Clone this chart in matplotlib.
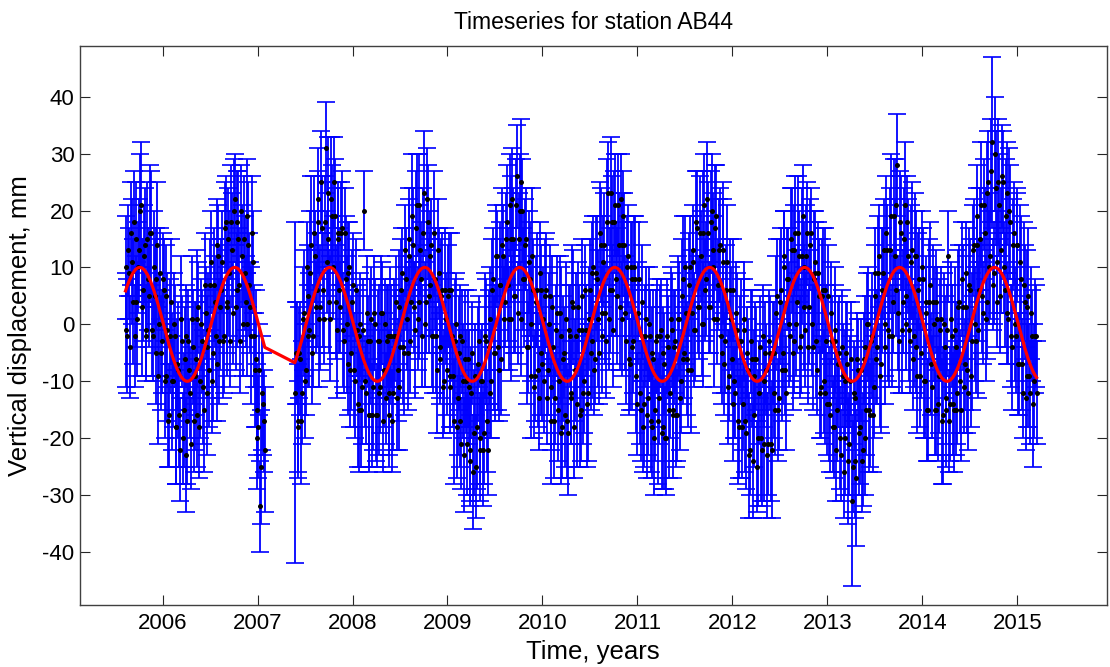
import numpy as np
import matplotlib
matplotlib.use("Agg")
import matplotlib.pyplot as plt

plt.rcParams["font.family"] = ["Liberation Sans", "DejaVu Sans"]
plt.rcParams["axes.unicode_minus"] = False

STATION = "AB44"
FIRST_EPOCH = 2005.61        # decimal year of the first solution
WEEK = 7 / 365.25            # two solutions per week: on the grid and half a week later

# seasonal model shown in red
SEASONAL_AMPLITUDE = 10.0    # mm
SEASONAL_PEAK = 0.76         # fraction of the year at maximum uplift

# ============================================================
# Vertical displacement (mm), one list per calendar year.
# VERT_* are the on-grid solutions, MID_* the half-week ones.
# None = no solution (early 2007 outage).
# ============================================================
VERT_2005 = [10, -2, 9, 16, 4, -2, 15, 10, 20, 3, 12, -1, 15, 5, 16, -2, 5, 8, -9, 9, -3]
VERT_2006 = [6, -9, -1, -16, 4, -10, -2, -18, -8, -22, -3, -15, -2,
             -17, -8, -21, -4, -9, -16, 3, -10, -3, -15, 2, -4, -8,
             11, -5, 4, -7, 12, 3, 11, -2, 18, 4, 9, 18, 2,
             22, 6, 15, -3, 12, 15, 4, 19, 7, -2, 11, -8, -15]
VERT_2007 = [-18, -32, -12, -17] + [None] * 16 + [
             -12, -5, -18, -6, -12, 2, -8, 5, -1, 14, -2, 12, 6,
             22, 3, 17, 1, 31, 15, 4, 22, 10, 19, -1, 15, 3,
             17, -3, 8, -7, 10, -5]
VERT_2008 = [7, -10, -1, -15, 0, -11, 20, -12, -3, -16, 1, -11, 0,
             -16, -3, -11, 2, -8, -13, -2, -12, -2, -12, -2, -13, 3,
             -4, 9, -5, 8, -5, 15, 4, 14, -1, 21, 4, 13, -2,
             23, 4, 18, 7, 14, -2, 8, -8, 9, -4, 6, -10, 1]
VERT_2009 = [5, -11, 6, -9, -3, -18, -5, -17, -3, -23, -10, -6, -22,
             -12, -26, -9, -18, -3, -22, -10, -19, -3, -22, 1, -10, 8,
             -5, 12, -8, 7, 14, 1, 15, 7, 21, 1, 15, 5, 26,
             15, 1, 20, 8, 15, -4, 8, -9, 6, -9, 6, -13, 6, -7]
VERT_2010 = [-10, 6, -8, 5, -17, -4, -13, 2, -10, -2, -18, -5, 1,
             -19, -2, -13, 3, -8, -14, -1, -15, 5, -10, -1, -12, 6,
             -3, 10, -6, 8, -5, 14, 2, 14, -3, 23, 6, 18, -1,
             21, 5, 14, 22, 1, 14, -3, 12, -7, 8, -3, 8, -14]
VERT_2011 = [8, -15, -2, -14, 1, -13, -2, -18, -6, -15, -2, -13, -1,
             -18, -7, -20, -4, -12, -1, -15, -3, -16, 1, -10, 8, -5,
             2, -8, 10, 2, 11, -1, 17, 3, 12, 0, 21, 8, 16,
             3, 20, 10, 17, 1, 13, -2, 13, -7, 6, -11, 6, -6]
VERT_2012 = [6, -12, -1, -18, -3, -14, -1, -19, -8, -22, -6, -16, -6,
             -25, -12, -20, -2, -21, -8, -21, -5, -22, -5, -15, 5, -13,
             6, -5, 12, -12, 8, -2, 13, -3, 16, 4, 12, -2, 19,
             3, 12, -4, 14, 0, 8, 9, -8, 5, -11, 6, -12, -3]
VERT_2013 = [5, -16, -3, -18, -1, -15, -5, -23, -9, -20, -5, -24, -10,
             -31, -12, -24, -6, -19, -8, -22, -4, -15, 0, -16, -2, -11,
             9, -4, 12, -7, 9, 0, 16, -1, 13, -2, 19, 6, 28,
             -3, 16, 4, 21, 0, 12, -3, 13, -2, 12, -9, 8, -5]
VERT_2014 = [8, -10, 2, -15, 7, -11, 0, -15, 1, -9, 1, -16, -4,
             -13, 12, -14, -2, -15, -4, -12, 4, -15, 3, -7, 9, -12,
             6, -3, 14, -3, 14, 6, 21, 2, 16, 4, 25, 12, 32,
             9, 24, 4, 21, 13, 25, 6, 23, 1, 18, -4, 16, -2]
VERT_2015 = [14, -7, 8, -12, 4, -9, 5, -12, -2, -10, -2]

MID_2005 = [-1, 13, -4, 11, 18, 4, 1, 13, 21, 6, 14, -2, 8, 16, -1, 10, -5, 14, 0, -5, 8]
MID_2006 = [-10, 5, -17, -2, -10, 0, -18, -7, -16, 1, -20, -6, -23,
            -3, -12, 1, -17, -6, 1, -18, 0, -11, 7, -12, -1, 7,
            -10, 7, -2, 14, -3, 6, -3, 17, 3, 15, -3, 13, 20,
            3, 18, 7, 20, 0, 9, 0, 14, 3, 16, -2, -6, -20]
MID_2007 = [-8, -25, -14, -22] + [None] * 16 + [
            -5, -17, -5, -17, 1, -10, 10, -2, 9, -5, 16, 3, 18,
            1, 25, 6, 18, 11, 23, 1, 19, 25, 4, 16, 6, 16,
            -1, 16, 0, 9, -8, 4]
MID_2008 = [-8, 6, -14, -2, -15, -1, -10, 2, -16, -3, -16, 2, -16,
            -3, -12, 2, -17, 0, -3, -16, -2, -17, -2, 4, -8, -11,
            6, -4, 13, 1, 12, -3, 19, 3, 17, 1, 21, 8, 16,
            0, 22, 5, 12, -2, 16, -2, 13, -6, 5, -11, 6, -8]
MID_2009 = [6, -9, -2, -17, 0, -13, -2, -21, -10, -6, -21, -11, -24,
            -5, -19, -25, -7, -20, -10, -22, -2, -17, -4, -12, 6, -5,
            12, -4, 7, -6, 12, 4, 18, 1, 15, 22, 5, 21, 2,
            20, 25, 8, 14, -4, 11, 0, 12, -11, 4, -8, 9, -5, 1]
MID_2010 = [5, -13, 0, -11, 3, -17, -1, -15, 2, -19, -6, -16, -17,
            -1, -12, 4, -18, -2, 3, -16, -1, -12, 6, -14, 1, -5,
            9, -8, 9, 1, 16, -2, 11, 2, 18, 1, 23, 6, 18,
            8, 21, 3, 14, 19, 2, 10, -6, 10, -4, 10, -9, 2]
MID_2011 = [-12, 4, -18, -2, -16, 0, -17, -5, -20, -3, -17, -2, -19,
            -5, -20, -2, -15, 1, -16, -4, -16, 1, -13, 5, -6, 10,
            -6, 7, -8, 13, -1, 18, 3, 16, 0, 16, 6, 22, 3,
            18, 13, 1, 19, 7, 14, -5, 11, -3, 11, -9, 1, -14]
MID_2012 = [-10, 2, -17, -3, -18, 1, -17, -5, -23, -3, -24, -9, -6,
            -20, -4, -22, -10, -5, -23, -3, -21, -5, -12, 2, -15, 4,
            -8, 10, -8, 8, 0, 15, -5, 13, 0, 16, -4, 12, 10,
            -1, 16, 3, 16, -4, 11, -3, 9, -12, 5, -10, 6, -14]
MID_2013 = [-14, 2, -18, -3, -22, -7, -20, -4, -26, -10, -7, -21, -6,
            -25, -13, -27, -8, -18, -24, -6, -20, 0, -15, -3, -16, 5,
            -6, 9, -9, 6, 13, -4, 13, -2, 19, 4, 12, 21, 2,
            18, -1, 15, 5, 18, -1, 11, -6, 12, -4, 6, -9, 10]
MID_2014 = [-10, 4, -15, 4, -7, 4, -15, 4, -14, -1, -17, 0, -15,
            -1, -17, 1, -14, -1, -15, 3, -10, 8, -11, 3, -8, 7,
            -9, 13, 0, 19, -1, 15, 5, 21, 1, 23, 10, 27, 7,
            30, 11, 25, 5, 26, 10, 19, 2, 20, -2, 14, 0, 14]
MID_2015 = [-7, 11, -7, 7, -13, 3, -9, 2, -14, -2, -12]

# formal 1-sigma uncertainties (mm), same layout
ERR_2005 = [9, 10, 8, 9, 11, 9, 10, 8, 10, 12, 9, 8, 10, 9, 11, 8, 10, 9, 12, 8, 9]
ERR_2006 = [9, 8, 10, 9, 11, 8, 9, 10, 12, 9, 8, 10, 9, 11, 9, 8, 10, 13, 9, 8,
            10, 9, 11, 8, 9, 10, 9, 12, 8, 10, 9, 11, 9, 10, 8, 9, 11, 10, 9, 8,
            10, 12, 9, 9, 11, 8, 10, 9, 12, 9, 10, 8]
ERR_2007 = [9, 8, 10, 9] + [None] * 16 + [
            30, 9, 8, 10, 9, 11, 8, 9, 10, 12, 9, 8, 10, 9, 11, 9, 8, 8, 10, 9,
            11, 9, 10, 12, 9, 8, 10, 9, 11, 9, 8, 10]
ERR_2008 = [9, 10, 8, 11, 9, 10, 7, 9, 8, 10, 9, 11, 8, 9, 10, 8, 9, 10, 8, 9,
            11, 9, 10, 8, 9, 10, 9, 8, 11, 9, 10, 9, 8, 10, 12, 9, 10, 8, 9, 11,
            9, 10, 9, 8, 10, 9, 11, 8, 9, 10, 9, 8]
ERR_2009 = [9, 8, 10, 9, 11, 9, 10, 8, 9, 10, 9, 12, 9, 8, 10, 9, 11, 8, 9, 10,
            9, 11, 8, 9, 10, 9, 12, 8, 9, 11, 10, 9, 8, 10, 9, 11, 9, 10, 9, 8,
            10, 9, 12, 9, 8, 10, 11, 9, 8, 10, 9, 8, 10]
ERR_2010 = [9, 10, 8, 9, 11, 9, 8, 10, 9, 12, 9, 8, 10, 11, 9, 8, 10, 9, 11, 8,
            9, 10, 9, 8, 12, 9, 10, 9, 8, 11, 9, 10, 8, 9, 10, 9, 11, 8, 10, 9,
            12, 9, 8, 10, 9, 11, 9, 8, 10, 9, 11, 9]
ERR_2011 = [10, 9, 8, 11, 9, 10, 8, 9, 12, 9, 10, 8, 9, 11, 9, 10, 9, 8, 10, 12,
            9, 8, 10, 9, 11, 8, 9, 10, 9, 11, 8, 9, 10, 9, 8, 11, 9, 10, 9, 8,
            10, 9, 11, 8, 9, 10, 12, 9, 8, 10, 9, 8]
ERR_2012 = [9, 8, 10, 9, 11, 8, 9, 10, 9, 8, 12, 9, 10, 8, 9, 11, 9, 10, 8, 9,
            10, 12, 9, 8, 10, 9, 11, 9, 8, 10, 9, 8, 11, 9, 10, 9, 8, 10, 9, 11,
            9, 10, 8, 9, 12, 9, 8, 10, 9, 11, 9, 10]
ERR_2013 = [9, 10, 8, 9, 11, 9, 10, 8, 9, 10, 9, 11, 8, 15, 9, 10, 8, 11, 9, 10,
            9, 8, 10, 9, 11, 9, 8, 10, 9, 12, 8, 9, 10, 9, 11, 9, 10, 8, 9, 9,
            10, 9, 11, 8, 10, 9, 12, 9, 8, 10, 9, 8]
ERR_2014 = [9, 10, 8, 9, 11, 9, 10, 8, 9, 10, 9, 12, 9, 8, 8, 10, 9, 11, 8, 9,
            10, 9, 11, 8, 9, 10, 9, 12, 8, 9, 10, 9, 11, 9, 8, 10, 9, 11, 15, 9,
            10, 8, 9, 11, 9, 10, 9, 8, 10, 11, 9, 10]
ERR_2015 = [10, 9, 11, 8, 10, 9, 12, 9, 8, 10, 9]

ERR_MID_2005 = [10, 8, 9, 11, 9, 8, 10, 9, 11, 9, 10, 8, 9, 12, 8, 10, 9, 11, 9, 10, 8]
ERR_MID_2006 = [10, 9, 8, 10, 12, 9, 10, 8, 9, 11, 8, 9, 10, 9, 8, 11, 9, 10, 12, 9,
                8, 10, 9, 11, 10, 8, 9, 10, 9, 8, 11, 9, 10, 8, 12, 9, 8, 10, 9, 11,
                9, 10, 8, 9, 10, 9, 11, 8, 10, 9, 12, 9]
ERR_MID_2007 = [8, 10, 9, 11] + [None] * 16 + [
                9, 10, 8, 11, 9, 10, 8, 9, 11, 9, 10, 8, 9, 12, 9, 10, 8, 9, 10, 11,
                9, 8, 10, 9, 11, 9, 10, 8, 12, 9, 10, 9]
ERR_MID_2008 = [10, 9, 11, 8, 10, 9, 8, 10, 9, 11, 9, 10, 8, 9, 11, 10, 9, 8, 10, 9,
                12, 9, 10, 8, 9, 11, 9, 10, 8, 9, 10, 9, 11, 8, 10, 9, 9, 10, 8, 11,
                9, 10, 8, 9, 11, 10, 9, 8, 10, 9, 11, 8]
ERR_MID_2009 = [10, 9, 8, 11, 9, 10, 9, 8, 10, 12, 9, 10, 8, 9, 11, 9, 10, 8, 9, 10,
                11, 9, 10, 8, 9, 10, 9, 11, 8, 10, 9, 8, 10, 9, 11, 9, 10, 8, 9, 10,
                11, 9, 8, 10, 9, 10, 12, 9, 8, 10, 9, 11, 9]
ERR_MID_2010 = [10, 8, 9, 11, 9, 10, 8, 9, 10, 9, 11, 9, 10, 8, 9, 10, 9, 11, 8, 9,
                10, 9, 8, 11, 9, 10, 9, 8, 10, 12, 9, 10, 8, 9, 11, 9, 10, 8, 9, 10,
                9, 11, 9, 8, 10, 9, 10, 8, 11, 9, 10, 9]
ERR_MID_2011 = [9, 10, 8, 9, 11, 10, 9, 8, 10, 9, 11, 9, 10, 8, 9, 10, 12, 9, 8, 10,
                9, 11, 9, 10, 8, 9, 10, 9, 11, 8, 10, 9, 8, 10, 9, 11, 9, 10, 8, 9,
                10, 12, 9, 8, 10, 9, 11, 9, 10, 8, 9, 10]
ERR_MID_2012 = [10, 9, 11, 8, 9, 10, 9, 8, 11, 9, 10, 8, 9, 12, 9, 10, 8, 9, 11, 9,
                10, 9, 8, 10, 9, 11, 9, 10, 8, 9, 11, 9, 10, 8, 9, 10, 9, 12, 8, 10,
                9, 10, 8, 11, 9, 10, 9, 8, 10, 9, 11, 9]
ERR_MID_2013 = [10, 9, 8, 10, 9, 11, 9, 10, 8, 9, 11, 9, 10, 8, 9, 12, 9, 10, 9, 8,
                10, 9, 11, 8, 10, 9, 8, 10, 9, 11, 9, 10, 8, 9, 11, 9, 10, 8, 10, 9,
                11, 9, 10, 8, 9, 10, 9, 11, 8, 10, 9, 10]
ERR_MID_2014 = [10, 8, 9, 11, 9, 10, 8, 9, 10, 9, 11, 9, 10, 8, 9, 10, 9, 11, 8, 10,
                9, 10, 8, 9, 11, 10, 9, 8, 10, 9, 12, 9, 10, 8, 11, 9, 10, 9, 8, 10,
                9, 11, 10, 9, 8, 10, 9, 11, 9, 8, 10, 9]
ERR_MID_2015 = [9, 10, 8, 11, 9, 10, 9, 8, 11, 10, 9]

VERT_BY_YEAR = [VERT_2005, VERT_2006, VERT_2007, VERT_2008, VERT_2009, VERT_2010,
                VERT_2011, VERT_2012, VERT_2013, VERT_2014, VERT_2015]
MID_BY_YEAR = [MID_2005, MID_2006, MID_2007, MID_2008, MID_2009, MID_2010,
               MID_2011, MID_2012, MID_2013, MID_2014, MID_2015]
ERR_BY_YEAR = [ERR_2005, ERR_2006, ERR_2007, ERR_2008, ERR_2009, ERR_2010,
               ERR_2011, ERR_2012, ERR_2013, ERR_2014, ERR_2015]
ERR_MID_BY_YEAR = [ERR_MID_2005, ERR_MID_2006, ERR_MID_2007, ERR_MID_2008,
                   ERR_MID_2009, ERR_MID_2010, ERR_MID_2011, ERR_MID_2012,
                   ERR_MID_2013, ERR_MID_2014, ERR_MID_2015]

X_TICKS = list(range(2006, 2016))
Y_TICKS = list(range(-40, 41, 10))


def to_array(lists):
    flat = [v for year in lists for v in year]
    return np.array([np.nan if v is None else v for v in flat], dtype=float)


def main():
    vert_on = to_array(VERT_BY_YEAR)
    vert_mid = to_array(MID_BY_YEAR)
    err_on = to_array(ERR_BY_YEAR)
    err_mid = to_array(ERR_MID_BY_YEAR)

    grid = FIRST_EPOCH + WEEK * np.arange(len(vert_on))
    epochs = np.concatenate([grid, grid[:len(vert_mid)] + WEEK / 2])
    vert = np.concatenate([vert_on, vert_mid])
    err = np.concatenate([err_on, err_mid])

    order = np.argsort(epochs)
    epochs, vert, err = epochs[order], vert[order], err[order]
    ok = ~np.isnan(vert)
    t, y, e = epochs[ok], vert[ok], err[ok]

    # annual model evaluated at the observation epochs (straight across the gap)
    model = SEASONAL_AMPLITUDE * np.cos(2 * np.pi * (t - SEASONAL_PEAK))

    fig = plt.figure(figsize=(11.1, 6.67), dpi=100)
    ax = fig.add_axes([0.072, 0.093, 0.925, 0.838])

    ax.errorbar(t, y, yerr=e, fmt="none", ecolor="#0000ff", elinewidth=1.3,
                capsize=6.8, capthick=1.2, zorder=2)
    ax.plot(t, y, "o", color="black", markersize=3.6, markeredgewidth=0, zorder=3)
    ax.plot(t, model, color="red", linewidth=2.3, zorder=4)

    ax.set_xlim(2005.13, 2015.94)
    ax.set_ylim(-49.3, 48.9)
    ax.set_xticks(X_TICKS)
    ax.set_yticks(Y_TICKS)
    ax.tick_params(direction="in", length=7.5, width=0.8, color="#262626",
                   top=True, right=True, labelsize=16)
    ax.tick_params(axis="x", pad=6)
    ax.tick_params(axis="y", pad=4)
    for side in ax.spines.values():
        side.set_color("#404040")
        side.set_linewidth(1.0)

    ax.set_xlabel("Time, years", fontsize=18.5, labelpad=4)
    ax.set_ylabel("Vertical displacement, mm", fontsize=18.5, labelpad=7)
    ax.set_title(f"Timeseries for station {STATION}", fontsize=16.5, pad=12)

    fig.savefig("out.png", dpi=100)


if __name__ == "__main__":
    main()
